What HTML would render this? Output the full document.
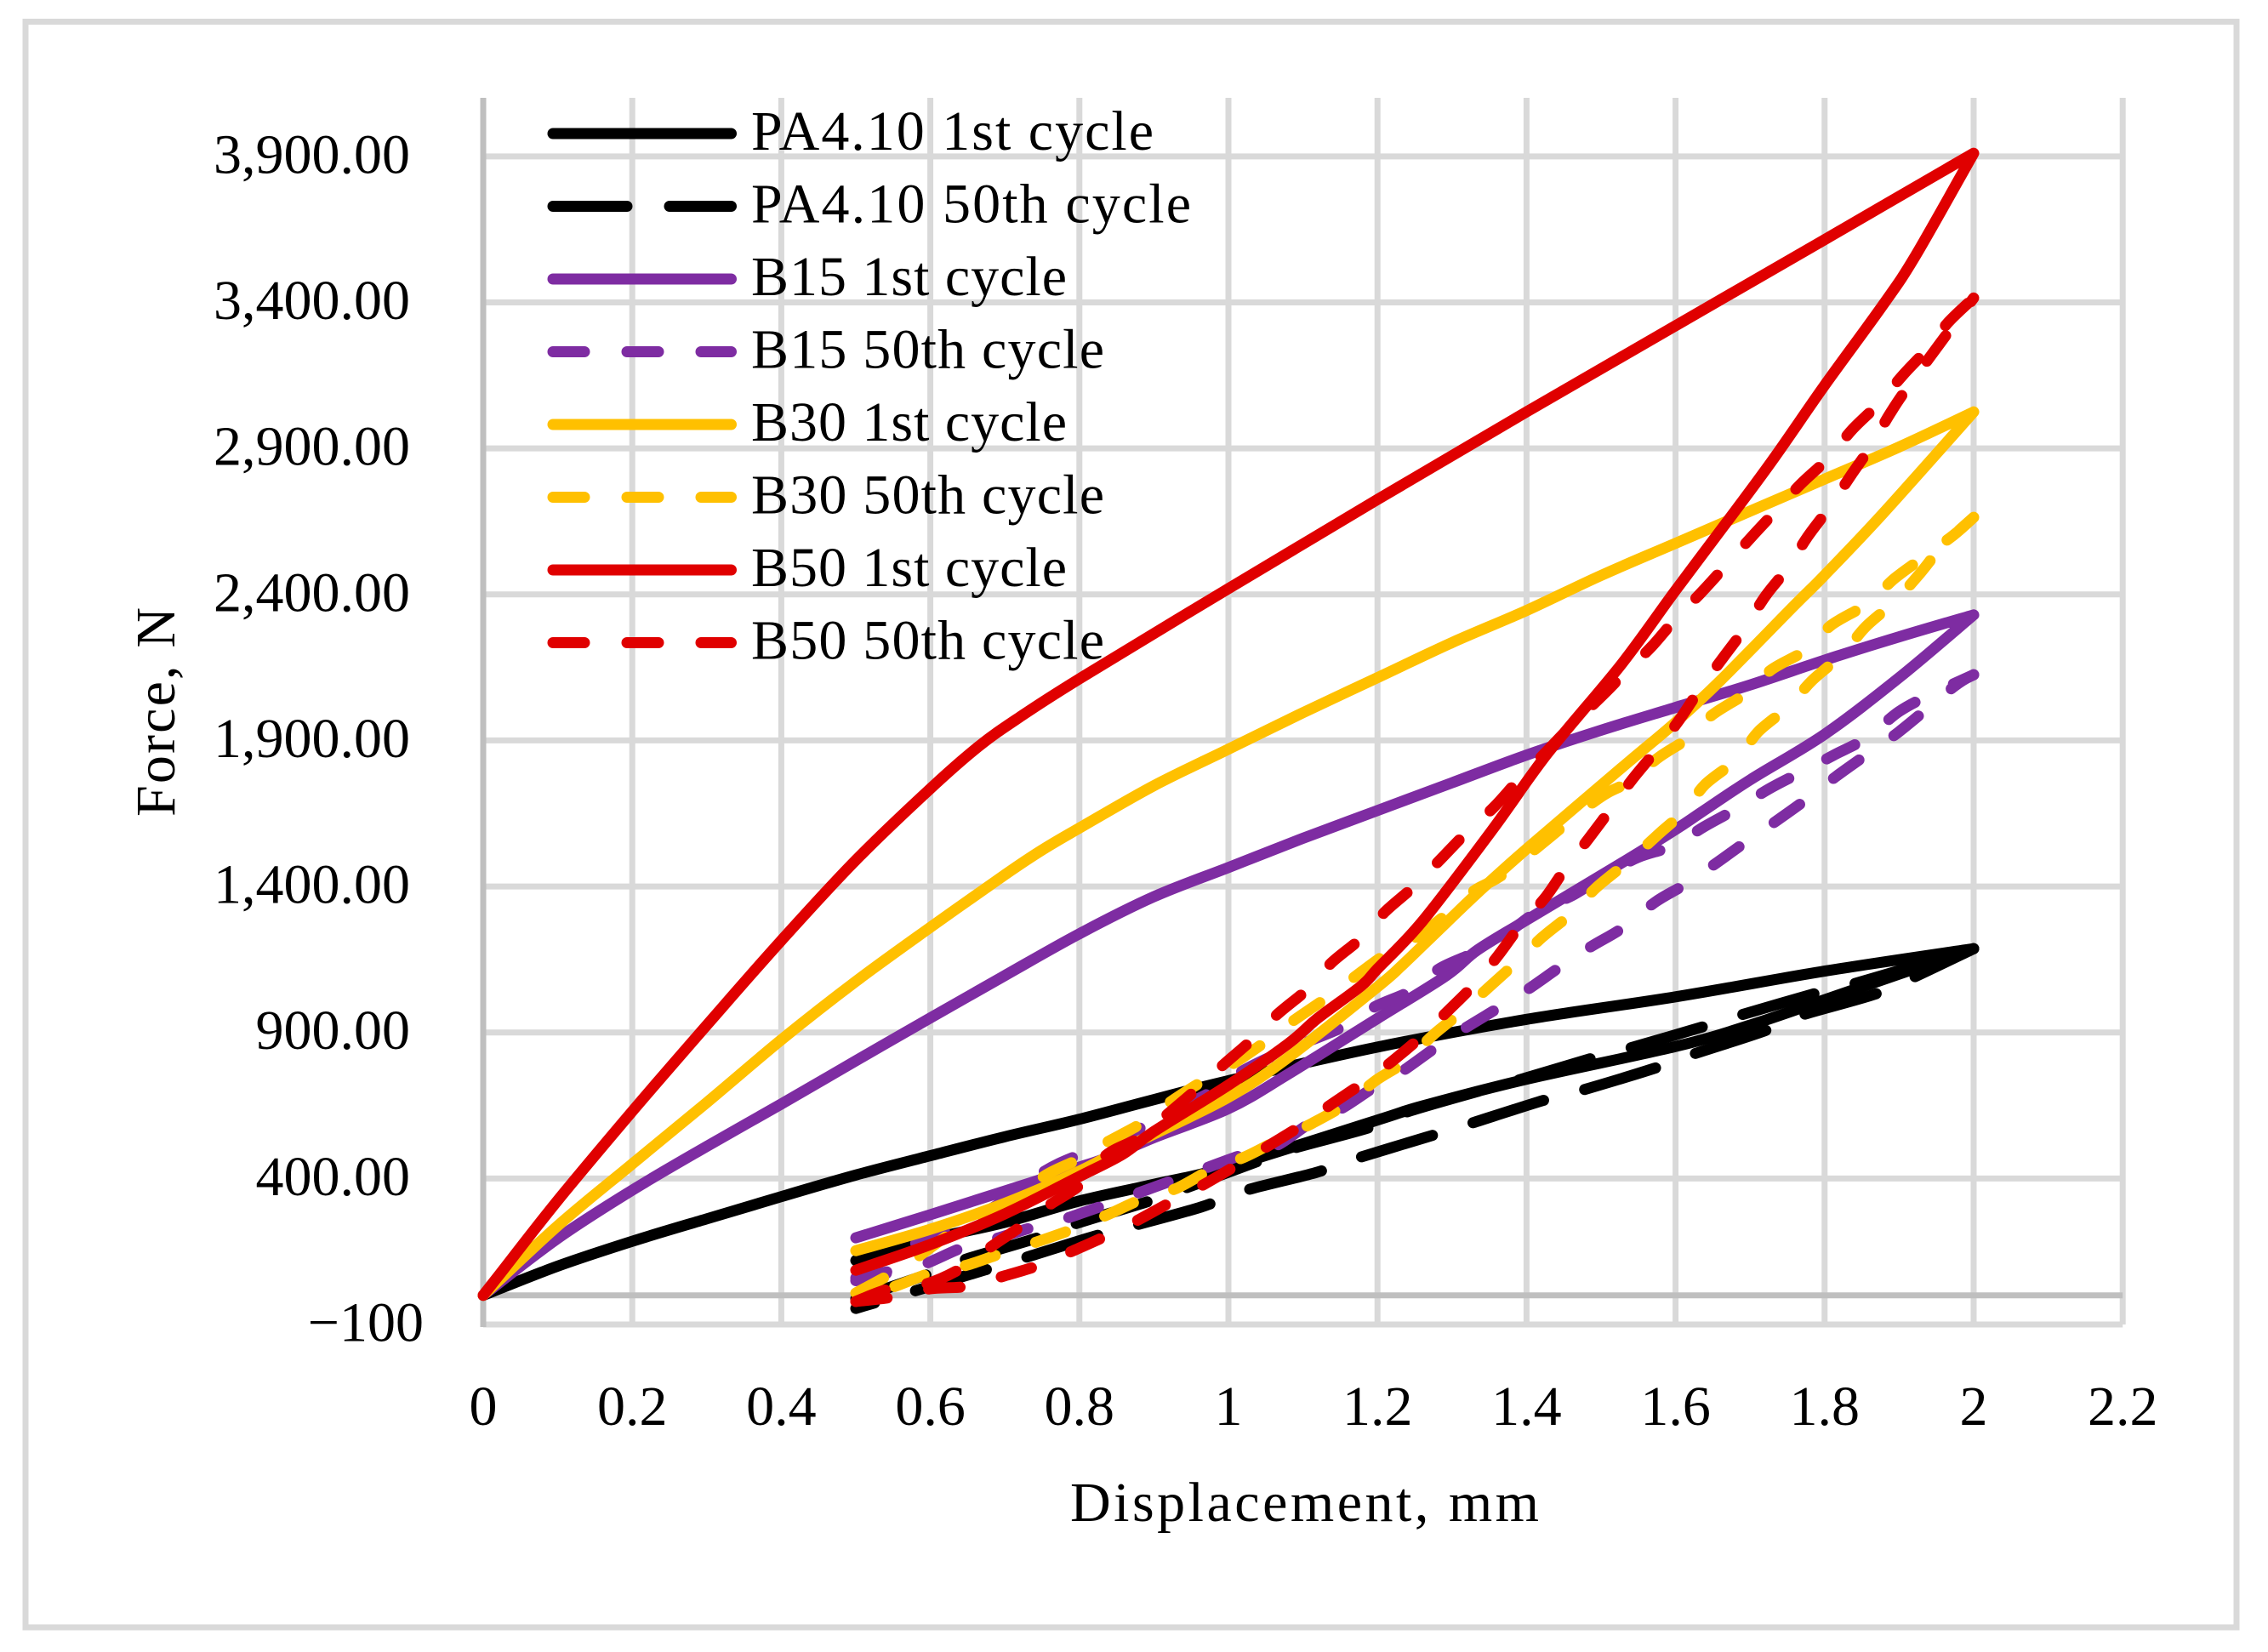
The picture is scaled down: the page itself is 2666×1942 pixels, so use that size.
<!DOCTYPE html>
<html lang="en">
<head>
<meta charset="utf-8">
<title>Force vs Displacement</title>
<style>
html,body{margin:0;padding:0;background:#fff;}
svg{display:block;}
text{font-family:"Liberation Serif",serif;font-size:66px;fill:#000;}
</style>
</head>
<body>
<svg id="chart" width="2666" height="1942" viewBox="0 0 2666 1942" xmlns="http://www.w3.org/2000/svg">
  <rect x="0" y="0" width="2666" height="1942" fill="#fff"/>
  <rect x="30" y="25.5" width="2599" height="1887.5" fill="#fff" stroke="#d9d9d9" stroke-width="7"/>
  <g id="grid"></g>
  <g id="axes"></g>
  <g id="series"></g>
  <g id="legend"></g>
  <text transform="translate(205 837) rotate(-90)" text-anchor="middle" textLength="246">Force, N</text>
  <text x="1533.5" y="1788" text-anchor="middle" textLength="551">Displacement, mm</text>
</svg>
<script>
var xTickValues = [0, 0.2, 0.4, 0.6, 0.8, 1, 1.2, 1.4, 1.6, 1.8, 2, 2.2];
var xTickLabels = ["0", "0.2", "0.4", "0.6", "0.8", "1", "1.2", "1.4", "1.6", "1.8", "2", "2.2"];
var yTickValues = [3900, 3400, 2900, 2400, 1900, 1400, 900, 400, -100];
var yTickLabels = ["3,900.00", "3,400.00", "2,900.00", "2,400.00", "1,900.00", "1,400.00", "900.00", "400.00", "\u2212100"];

var pa1st = [[0,0],[.1,100],[.2,185],[.3,262],[.4,338],[.5,412],[.6,478],[.7,543],[.8,603],[.9,670],[1,735],[1.2,850],[1.4,945],[1.6,1022],[1.8,1110],[2,1187],[1.9,1100],[1.8,1012],[1.7,925],[1.6,852],[1.4,740],[1.26,648],[1.2,600],[1,440],[.9,380],[.8,323],[.7,250],[.6,192],[.5,119]];
var pa50Load = [[.5,-12],[.6,75],[.642,119],[.744,197],[.79,241],[.893,322],[.938,363],[1.04,459],[1.087,503],[1.19,575],[1.236,625],[1.341,703],[1.388,736],[1.492,815],[1.539,847],[1.644,925],[1.688,960],[1.791,1036],[1.837,1065],[2,1187]];
var pa50Unload = [[.5,-45],[.6,31],[.672,86],[.721,124],[.813,197],[.872,238],[.963,302],[1.02,357],[1.118,421],[1.171,468],[1.265,541],[1.317,582],[1.422,667],[1.469,698],[1.571,777],[1.618,821],[1.719,905],[1.764,955],[1.866,1030],[1.912,1080],[2,1187]];

var b15st = [[0,0],[.1,195],[.2,360],[.3,510],[.4,655],[.5,803],[.6,950],[.7,1095],[.8,1238],[.9,1365],[1,1465],[1.1,1565],[1.2,1660],[1.3,1755],[1.4,1850],[1.5,1935],[1.6,2013],[1.7,2090],[1.8,2175],[1.9,2255],[2,2330],[1.9,2115],[1.8,1921],[1.7,1765],[1.634,1653],[1.6,1595],[1.53,1484],[1.4,1285],[1.334,1182],[1.292,1094],[1.2,948],[1.08,757],[1,639],[.9,540],[.836,470],[.8,439],[.7,357],[.6,276],[.5,197]];
var b1550Load = [[.5,50],[.547,83],[.578,174],[.628,231],[.684,300],[.752,423],[.801,482],[.855,533],[.893,590],[.938,647],[.984,706],[1.018,767],[1.072,834],[1.14,903],[1.159,932],[1.198,990],[1.249,1048],[1.284,1120],[1.334,1178],[1.374,1240],[1.418,1320],[1.462,1370],[1.509,1445],[1.55,1500],[1.597,1540],[1.638,1604],[1.683,1668],[1.726,1735],[1.769,1792],[1.814,1852],[1.857,1910],[1.9,1999],[1.943,2058],[2,2125]];
var b1550Unload = [[.5,60],[.547,83],[.588,103],[.642,162],[.684,191],[.736,232],[.779,261],[.832,307],[.9,370],[.969,435],[1.018,480],[1.064,512],[1.11,590],[1.152,640],[1.197,715],[1.232,765],[1.28,852],[1.317,914],[1.364,987],[1.402,1048],[1.446,1126],[1.486,1193],[1.53,1260],[1.573,1347],[1.612,1406],[1.654,1479],[1.694,1552],[1.735,1624],[1.775,1697],[1.815,1776],[1.855,1849],[1.9,1930],[1.974,2085],[2,2125]];

var b30st = [[0,0],[.1,238],[.2,450],[.3,660],[.4,875],[.5,1075],[.6,1260],[.7,1440],[.75,1525],[.8,1600],[.9,1745],[1,1870],[1.1,1995],[1.2,2115],[1.3,2235],[1.4,2345],[1.5,2465],[1.6,2575],[1.7,2685],[1.8,2795],[1.9,2905],[2,3025],[1.878,2676],[1.8,2466],[1.76,2364],[1.66,2105],[1.6,1962],[1.527,1805],[1.4,1528],[1.336,1382],[1.292,1275],[1.235,1135],[1.2,1056],[1.08,814],[1,678],[.9,552],[.86,505],[.8,425],[.7,315],[.6,226],[.5,153]];
var b3050Load = [[.5,8],[.542,66],[.579,124],[.622,203],[.664,270],[.713,319],[.752,407],[.798,465],[.836,523],[.884,590],[.919,657],[.967,736],[1.007,794],[1.049,867],[1.087,940],[1.132,1019],[1.167,1086],[1.209,1164],[1.255,1231],[1.295,1310],[1.33,1386],[1.376,1455],[1.49,1689],[1.535,1756],[1.578,1843],[1.618,1910],[1.65,1989],[1.698,2067],[1.729,2143],[1.777,2213],[1.809,2295],[1.857,2368],[1.894,2455],[1.928,2519],[1.973,2603],[2,2664]];
var b3050Unload = [[.5,-21],[.553,31],[.606,81],[.65,104],[.7,148],[.743,183],[.797,232],[.838,276],[.888,334],[.93,366],[.981,436],[1.022,474],[1.067,532],[1.113,590],[1.159,657],[1.198,736],[1.239,803],[1.274,890],[1.315,975],[1.349,1054],[1.388,1144],[1.421,1226],[1.463,1313],[1.494,1397],[1.54,1493],[1.578,1581],[1.612,1659],[1.64,1750],[1.683,1837],[1.711,1930],[1.752,2017],[1.783,2105],[1.825,2198],[1.855,2289],[1.894,2376],[1.928,2472],[1.958,2565],[2,2664]];

var b50st = [[0,0],[.02,65],[.1,325],[.2,630],[.3,925],[.4,1215],[.5,1490],[.6,1735],[.665,1880],[.72,1980],[.8,2111],[1,2420],[1.2,2725],[1.4,3025],[1.6,3320],[1.8,3615],[2,3911],[1.922,3560],[1.878,3390],[1.8,3116],[1.733,2870],[1.677,2676],[1.6,2414],[1.527,2160],[1.428,1855],[1.353,1590],[1.26,1280],[1.2,1118],[1.178,1059],[1.12,949],[1.08,861],[1,720],[.9,561],[.858,483],[.8,407],[.7,279],[.6,174],[.5,86]];
var b5050Load = [[.5,-21],[.545,22],[.592,37],[.639,89],[.679,162],[.721,235],[.759,308],[.801,378],[.836,480],[.881,541],[.918,620],[.958,707],[.993,789],[1.032,876],[1.066,963],[1.106,1048],[1.138,1138],[1.178,1223],[1.21,1313],[1.249,1400],[1.285,1494],[1.317,1578],[1.356,1671],[1.388,1761],[1.426,1860],[1.458,1945],[1.507,2067],[1.527,2119],[1.567,2219],[1.596,2304],[1.635,2408],[1.665,2492],[1.702,2597],[1.733,2682],[1.768,2778],[1.803,2862],[1.838,2967],[1.872,3052],[1.905,3151],[1.938,3241],[1.966,3332],[2,3415]];
var b5050Unload = [[.5,-21],[.55,-6],[.599,22],[.65,31],[.699,66],[.747,104],[.792,153],[.838,206],[.881,261],[.929,328],[.968,381],[1.016,453],[1.053,511],[1.1,585],[1.138,654],[1.182,730],[1.219,800],[1.258,884],[1.295,975],[1.33,1065],[1.362,1164],[1.39,1260],[1.426,1365],[1.452,1461],[1.484,1566],[1.513,1665],[1.542,1767],[1.574,1866],[1.606,1974],[1.632,2073],[1.663,2181],[1.691,2277],[1.721,2396],[1.749,2486],[1.777,2597],[1.805,2693],[1.836,2810],[1.861,2903],[1.888,3020],[1.916,3125],[2,3415]];

var legendLabels = ["PA4.10 1st cycle", "PA4.10 50th cycle", "B15 1st cycle", "B15 50th cycle", "B30 1st cycle", "B30 50th cycle", "B50 1st cycle", "B50 50th cycle"];
var legendWidths = [473, 517, 371, 415, 371, 415, 371, 415];

var NS = "http://www.w3.org/2000/svg";
var X0 = 568, XPX = 876, Y0 = 1522.7, YPX = 0.3433;
function sx(v) { return X0 + v * XPX; }
function sy(v) { return Y0 - v * YPX; }
function kebab(s) { return s.toLowerCase().replace(/[^a-z0-9]+/g, "-"); }
/* smooth curve through one monotone branch */
function curveOf(arr) {
  var d = "";
  for (var i = 0; i < arr.length - 1; i++) {
    var p0 = arr[Math.max(i - 1, 0)], p1 = arr[i], p2 = arr[i + 1], p3 = arr[Math.min(i + 2, arr.length - 1)];
    var x1 = sx(p1[0]), y1 = sy(p1[1]), x2 = sx(p2[0]), y2 = sy(p2[1]);
    var c1x = x1 + (x2 - sx(p0[0])) / 6, c1y = y1 + (y2 - sy(p0[1])) / 6;
    var c2x = x2 - (sx(p3[0]) - x1) / 6, c2y = y2 - (sy(p3[1]) - y1) / 6;
    d += "C" + c1x.toFixed(1) + " " + c1y.toFixed(1) + " " + c2x.toFixed(1) + " " + c2y.toFixed(1) + " " + x2.toFixed(1) + " " + y2.toFixed(1);
  }
  return d;
}
function pathOf(arr) {
  var peak = 0;
  for (var i = 0; i < arr.length; i++) { if (arr[i][0] > arr[peak][0]) { peak = i; } }
  var d = "M" + sx(arr[0][0]).toFixed(1) + " " + sy(arr[0][1]).toFixed(1);
  d += curveOf(arr.slice(0, peak + 1));
  if (peak < arr.length - 1) { d += curveOf(arr.slice(peak)); }
  return d;
}

var grid = document.getElementById("grid");
var axes = document.getElementById("axes");
var seriesG = document.getElementById("series");
var legend = document.getElementById("legend");
var TOP = 115, BOTTOM = 1557, RIGHT = sx(2.2);

/* gridlines and tick labels */
yTickValues.forEach(function (v, i) {
  var l = document.createElementNS(NS, "line");
  l.setAttribute("x1", X0); l.setAttribute("x2", RIGHT);
  l.setAttribute("y1", sy(v)); l.setAttribute("y2", sy(v));
  l.setAttribute("stroke", "#d9d9d9"); l.setAttribute("stroke-width", 7);
  
  
  grid.appendChild(l);
  var t = document.createElementNS(NS, "text");
  t.setAttribute("x", v < 0 ? 498 : 482);
  t.setAttribute("y", sy(v) + 19.5);
  t.setAttribute("text-anchor", "end");
  t.textContent = yTickLabels[i];
  
  
  axes.appendChild(t);
});
xTickValues.forEach(function (v, i) {
  if (v > 0) {
    var l = document.createElementNS(NS, "line");
    l.setAttribute("x1", sx(v)); l.setAttribute("x2", sx(v));
    l.setAttribute("y1", TOP); l.setAttribute("y2", BOTTOM);
    l.setAttribute("stroke", "#d9d9d9"); l.setAttribute("stroke-width", 7);
    
    
    grid.appendChild(l);
  }
  var t = document.createElementNS(NS, "text");
  t.setAttribute("x", sx(v));
  t.setAttribute("y", 1675);
  t.setAttribute("text-anchor", "middle");
  t.textContent = xTickLabels[i];
  
  
  axes.appendChild(t);
});

/* axis lines */
var yAxis = document.createElementNS(NS, "line");
yAxis.setAttribute("x1", X0); yAxis.setAttribute("x2", X0);
yAxis.setAttribute("y1", TOP); yAxis.setAttribute("y2", BOTTOM + 3);
yAxis.setAttribute("stroke", "#bfbfbf"); yAxis.setAttribute("stroke-width", 7);


grid.appendChild(yAxis);
var xAxis = document.createElementNS(NS, "line");
xAxis.setAttribute("x1", X0); xAxis.setAttribute("x2", RIGHT);
xAxis.setAttribute("y1", sy(0)); xAxis.setAttribute("y2", sy(0));
xAxis.setAttribute("stroke", "#bfbfbf"); xAxis.setAttribute("stroke-width", 7);


grid.appendChild(xAxis);

/* series, in legend order */
var PURPLE = "#7e2ca2", YELLOW = "#ffc000", RED = "#e00000", BLACK = "#000000";
var SHORT = "37 50", LONG = "87 50";
var seriesDefs = [
  [pa1st, BLACK, "", 0, 0],
  [pa50Load, BLACK, LONG, 0, 1],
  [pa50Unload, BLACK, LONG, 64, 1],
  [b15st, PURPLE, "", 0, 2],
  [b1550Load, PURPLE, SHORT, 0, 3],
  [b1550Unload, PURPLE, SHORT, 0, 3],
  [b30st, YELLOW, "", 0, 4],
  [b3050Load, YELLOW, SHORT, 0, 5],
  [b3050Unload, YELLOW, SHORT, 38, 5],
  [b50st, RED, "", 0, 6],
  [b5050Load, RED, SHORT, 0, 7],
  [b5050Unload, RED, SHORT, 0, 7]
];
seriesDefs.forEach(function (s) {
  var p = document.createElementNS(NS, "path");
  p.setAttribute("d", pathOf(s[0]));
  p.setAttribute("fill", "none");
  p.setAttribute("stroke", s[1]);
  p.setAttribute("stroke-width", 13);
  p.setAttribute("stroke-linecap", "round");
  p.setAttribute("stroke-linejoin", "round");
  if (s[2]) {
    p.setAttribute("stroke-dasharray", s[2]);
    p.setAttribute("stroke-dashoffset", s[3]);
  }
  
  
  seriesG.appendChild(p);
});

/* legend */
var legendColors = [BLACK, BLACK, PURPLE, PURPLE, YELLOW, YELLOW, RED, RED];
var legendDash = ["", LONG, "", SHORT, "", SHORT, "", SHORT];
legendLabels.forEach(function (label, i) {
  var y = 157 + i * 85.5;
  var sw = document.createElementNS(NS, "line");
  sw.setAttribute("x1", 650); sw.setAttribute("x2", 859.5);
  sw.setAttribute("y1", y); sw.setAttribute("y2", y);
  sw.setAttribute("stroke", legendColors[i]);
  sw.setAttribute("stroke-width", 13);
  sw.setAttribute("stroke-linecap", "round");
  if (legendDash[i]) { sw.setAttribute("stroke-dasharray", legendDash[i]); }
  
  
  legend.appendChild(sw);
  var t = document.createElementNS(NS, "text");
  t.setAttribute("x", 883);
  t.setAttribute("y", y + 19);
  t.setAttribute("textLength", legendWidths[i]);
  t.textContent = label;
  
  
  legend.appendChild(t);
});
</script>
</body>
</html>
